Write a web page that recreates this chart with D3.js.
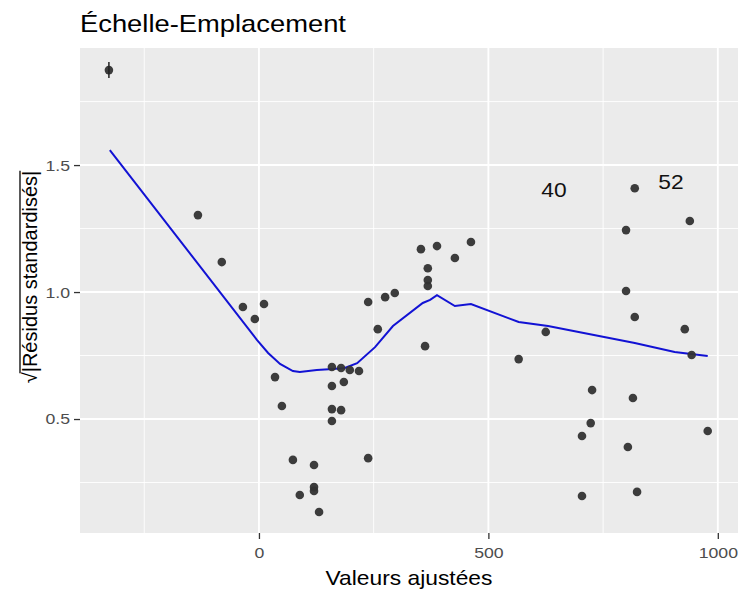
<!DOCTYPE html>
<html>
<head>
<meta charset="utf-8">
<script src="https://cdn.jsdelivr.net/npm/d3@7"></script>
<style>
  body { margin: 0; background: #fff; }
  text { font-family: "Liberation Sans", Arial, sans-serif; }
</style>
</head>
<body>
<div id="chart"></div>
<script>
// Chart data
var fittedX = [-327, -133, -81, -35, -9, 11, 35, 50, 74, 89, 120, 120, 120, 131,
  159, 179, 198, 218, 159, 185, 159, 179, 159, 238, 238, 259, 275, 296,
  353, 388, 427, 462, 368, 368, 368, 362, 566, 625, 726, 723, 704, 704,
  819, 800, 800, 819, 815, 804, 824, 939, 928, 943, 978];
var sqrtResid = [1.874, 1.303, 1.118, 0.941, 0.894, 0.953, 0.665, 0.551, 0.339, 0.201, 0.319, 0.232, 0.217, 0.134,
  0.705, 0.701, 0.693, 0.689, 0.630, 0.646, 0.539, 0.535, 0.492, 0.346, 0.961, 0.854, 0.980, 0.996,
  1.169, 1.181, 1.134, 1.197, 1.094, 1.047, 1.024, 0.787, 0.736, 0.843, 0.614, 0.484, 0.433, 0.197,
  1.409, 1.244, 1.004, 0.902, 0.583, 0.390, 0.213, 1.280, 0.854, 0.752, 0.453];

// Smoother (loess) line
var smoothX = [-325, -4, 20, 46, 74, 89, 126, 161, 187, 214, 253, 292, 357, 373, 388, 427, 462, 566, 630, 819, 906, 978];
var smoothY = [1.559, 0.811, 0.760, 0.717, 0.689, 0.685, 0.693, 0.697, 0.701, 0.720, 0.783, 0.866, 0.957, 0.969, 0.988, 0.945, 0.953, 0.882, 0.866, 0.799, 0.764, 0.748];

// Point labels
var labelText = ["40", "52"];
var labelX = [643, 898];
var labelY = [1.402, 1.433];

// Ticks
var xTicks = [0, 500, 1000];
var xMinor = [-250, 250, 750];
var yTicks = [0.5, 1.0, 1.5];
var yMinor = [0.25, 0.75, 1.25, 1.75];

var svgWidth = 750;
var svgHeight = 600;
var margin = { top: 48, right: 12, bottom: 67, left: 80 };
var width = svgWidth - margin.left - margin.right;
var height = svgHeight - margin.top - margin.bottom;
var sx = 1.14; // horizontal text stretch seen in the reference

var svg = d3.select("#chart")
  .append("svg")
  .attr("width", svgWidth)
  .attr("height", svgHeight);

var chartGroup = svg.append("g")
  .attr("transform", `translate(${margin.left}, ${margin.top})`);

var xScale = d3.scaleLinear().domain([-390, 1044]).range([0, width]);
var yScale = d3.scaleLinear().domain([0.0512, 1.961]).range([height, 0]);

// Panel background
chartGroup.append("rect")
  .attr("width", width)
  .attr("height", height)
  .attr("fill", "#ebebeb");

// Minor grid
chartGroup.selectAll(".xminor").data(xMinor).enter().append("line")
  .attr("x1", d => xScale(d)).attr("x2", d => xScale(d))
  .attr("y1", 0).attr("y2", height)
  .attr("stroke", "#fff").attr("stroke-width", 0.9);
chartGroup.selectAll(".yminor").data(yMinor).enter().append("line")
  .attr("x1", 0).attr("x2", width)
  .attr("y1", d => yScale(d)).attr("y2", d => yScale(d))
  .attr("stroke", "#fff").attr("stroke-width", 0.9);

// Major grid
chartGroup.selectAll(".xmajor").data(xTicks).enter().append("line")
  .attr("x1", d => xScale(d)).attr("x2", d => xScale(d))
  .attr("y1", 0).attr("y2", height)
  .attr("stroke", "#fff").attr("stroke-width", 1.9);
chartGroup.selectAll(".ymajor").data(yTicks).enter().append("line")
  .attr("x1", 0).attr("x2", width)
  .attr("y1", d => yScale(d)).attr("y2", d => yScale(d))
  .attr("stroke", "#fff").attr("stroke-width", 1.9);

// Axes
var bottomAxis = d3.axisBottom(xScale).tickValues(xTicks).tickSize(6).tickPadding(5)
  .tickFormat(d3.format("d"));
var leftAxis = d3.axisLeft(yScale).tickValues(yTicks).tickSize(6).tickPadding(4)
  .tickFormat(d3.format(".1f"));

var xAxis = chartGroup.append("g")
  .attr("transform", `translate(0, ${height})`)
  .call(bottomAxis);
var yAxis = chartGroup.append("g").call(leftAxis);

[xAxis, yAxis].forEach(function(ax) {
  ax.select(".domain").remove();
  ax.selectAll(".tick line").attr("stroke", "#333").attr("stroke-width", 1.3);
  ax.selectAll(".tick text")
    .attr("fill", "#4d4d4d")
    .style("font-size", "15.5px");
});
// stretch tick labels horizontally like the reference
xAxis.selectAll(".tick text").attr("transform", `scale(${sx},1)`).attr("dy", "0.9em");
yAxis.selectAll(".tick text").each(function() {
  var t = d3.select(this);
  var x = +t.attr("x");
  t.attr("transform", `translate(${x},0) scale(${sx},1)`).attr("x", 0);
});

// Smoother line
var line = d3.line()
  .x((d, i) => xScale(smoothX[i]))
  .y(d => yScale(d));

chartGroup.append("path")
  .datum(smoothY)
  .attr("d", line)
  .attr("fill", "none")
  .attr("stroke", "#1212d4")
  .attr("stroke-width", 2);

// Points
chartGroup.selectAll("circle")
  .data(sqrtResid)
  .enter()
  .append("circle")
  .attr("cx", (d, i) => xScale(fittedX[i]))
  .attr("cy", d => yScale(d))
  .attr("r", 4.3)
  .attr("fill", "#333")
  .attr("fill-opacity", 0.95);

// small vertical mark through the top-left point
chartGroup.append("line")
  .attr("x1", xScale(fittedX[0])).attr("x2", xScale(fittedX[0]))
  .attr("y1", yScale(sqrtResid[0]) - 8).attr("y2", yScale(sqrtResid[0]) + 8)
  .attr("stroke", "#222").attr("stroke-width", 1.5);

// Point labels
chartGroup.selectAll(".ptlabel")
  .data(labelText)
  .enter()
  .append("text")
  .attr("transform", (d, i) => `translate(${xScale(labelX[i])},${yScale(labelY[i])}) scale(${sx},1)`)
  .attr("text-anchor", "middle")
  .attr("dy", "0.36em")
  .style("font-size", "20px")
  .attr("fill", "#111")
  .text(d => d);

// Title
svg.append("text")
  .attr("transform", `translate(${margin.left}, 32) scale(${sx},1)`)
  .style("font-size", "24px")
  .attr("fill", "#000")
  .text("Échelle-Emplacement");

// X axis title
svg.append("text")
  .attr("transform", `translate(${margin.left + width / 2}, 585) scale(${sx},1)`)
  .attr("text-anchor", "middle")
  .style("font-size", "20px")
  .attr("fill", "#000")
  .text("Valeurs ajustées");

// Y axis title: sqrt sign with an overline over |Résidus standardisés|
var yTitle = svg.append("g")
  .attr("transform", "translate(37, 277) rotate(-90)");
var yText = yTitle.append("text")
  .style("font-size", "20px")
  .attr("fill", "#000");
yText.append("tspan").text("√");
yText.append("tspan").text("|Résidus standardisés|");

var total = yText.node().getComputedTextLength();
var rootW = yText.node().getSubStringLength(0, 1);
yText.attr("x", -total / 2);
yTitle.append("line")
  .attr("x1", -total / 2 + rootW - 1).attr("x2", total / 2)
  .attr("y1", -17).attr("y2", -17)
  .attr("stroke", "#000").attr("stroke-width", 1.3);
</script>
</body>
</html>
